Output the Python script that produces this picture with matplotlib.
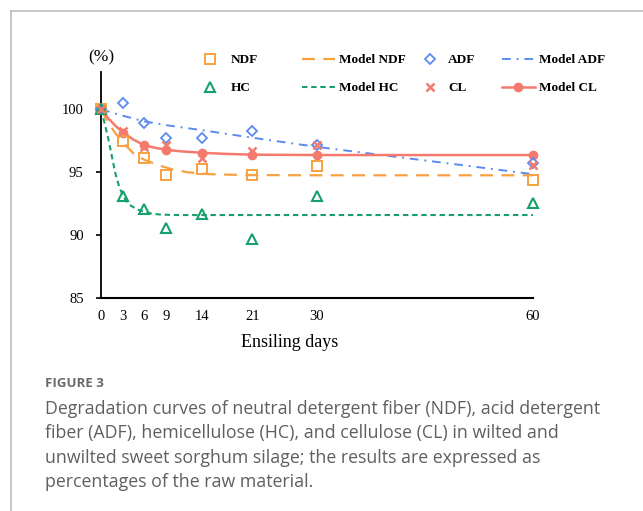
import matplotlib
matplotlib.use('Agg')
import matplotlib.pyplot as plt
from matplotlib.lines import Line2D

# measured days and values (% of raw material)
days = [0, 3, 6, 9, 14, 21, 30, 60]
ndf = [100, 97.49, 96.14, 94.78, 95.25, 94.76, 95.48, 94.42]
adf = [100, 100.5, 98.94, 97.72, 97.7, 98.27, 97.2, 95.7]
hc = [100, 93.1, 92.1, 90.58, 91.72, 89.68, 93.1, 92.52]
cl = [100, 98.28, 97.0, 97.2, 96.1, 96.72, 97.2, 95.6]

# model curves, values
ndf_model_days = [0, 1, 2, 3, 4.5, 6, 8, 10, 12, 15, 20, 30, 60]
ndf_model = [100, 98.95, 98.1, 97.4, 96.5, 96.0, 95.55, 95.22, 95.0, 94.85, 94.78, 94.76, 94.76]
hc_model_days = [0, 0.5, 1, 1.5, 2, 2.5, 3, 3.5, 4, 5, 6, 7, 8, 10, 60]
hc_model = [100, 98.9, 97.7, 96.3, 94.9, 93.9, 93.2, 92.7, 92.4, 92.05, 91.85, 91.72, 91.65, 91.6, 91.6]
adf_model_days = [0, 1.5, 3, 6, 9, 14, 21, 30, 40, 50, 60]
adf_model = [100, 99.75, 99.5, 99.05, 98.75, 98.35, 97.75, 97.02, 96.3, 95.58, 94.85]
cl_model_days = [0, 1, 2, 3, 4.5, 6, 7.5, 9, 11, 14, 17, 21, 30, 60]
cl_model = [100, 99.3, 98.7, 98.2, 97.6, 97.15, 96.95, 96.8, 96.67, 96.55, 96.47, 96.4, 96.37, 96.37]
cl_model_pts = [100, 98.15, 97.14, 96.8, 96.55, 96.4, 96.37, 96.37]

c_ndf = '#F7A040'
c_adf = '#5B8BEF'
c_hc = '#17A06C'
c_cl = '#F47A6E'

serif = 'Liberation Serif'

fig = plt.figure(figsize=(6.43, 5.11), dpi=100)
ax = fig.add_axes([101 / 643, 1 - 298 / 511, 432 / 643, 226.3 / 511])

l_ndf_m, = ax.plot(ndf_model_days, ndf_model, color=c_ndf, lw=1.6, linestyle=(0, (5.8, 3.8)), clip_on=False)
l_hc_m, = ax.plot(hc_model_days, hc_model, color=c_hc, lw=1.5, linestyle=(0, (2.6, 1.8)), clip_on=False)
l_adf_m, = ax.plot(adf_model_days, adf_model, color=c_adf, lw=1.4, linestyle=(0, (4.5, 3, 1, 3)), clip_on=False)
l_cl_m, = ax.plot(cl_model_days, cl_model, color=c_cl, lw=1.8, clip_on=False)
p_cl_m, = ax.plot(days, cl_model_pts, 'o', color=c_cl, ms=6, clip_on=False, zorder=4)

p_ndf, = ax.plot(days, ndf, 's', mfc='none', mec=c_ndf, ms=6.5, mew=1.4, clip_on=False, zorder=5)
p_adf, = ax.plot(days, adf, 'D', mfc='none', mec=c_adf, ms=5, mew=1.3, clip_on=False, zorder=5)
p_hc, = ax.plot(days, hc, '^', mfc='none', mec=c_hc, ms=6.5, mew=1.5, clip_on=False, zorder=5)
p_cl, = ax.plot(days, cl, 'x', color=c_cl, ms=6, mew=1.8, clip_on=False, zorder=6)

ax.set_xlim(0, 60)
ax.set_ylim(85, 103)
ax.set_xticks(days)
ax.set_yticks([85, 90, 95, 100])
ax.spines['top'].set_visible(False)
ax.spines['right'].set_visible(False)
ax.spines['left'].set_linewidth(1.3)
ax.spines['bottom'].set_linewidth(1.5)
ax.tick_params(axis='x', length=0, pad=9, labelsize=10.5)
ax.tick_params(axis='y', length=3.5, width=1.2, direction='out', pad=9, labelsize=10.5)
for lab in ax.get_xticklabels() + ax.get_yticklabels():
    lab.set_family(serif)

ax.set_xlabel('Ensiling days', fontsize=13, family=serif)
ax.xaxis.set_label_coords(0.4375, -0.16)
ax.text(0, 1.065, '(%)', transform=ax.transAxes, ha='center', va='center', fontsize=12.5, family=serif)

prop = {'family': serif, 'weight': 'bold', 'size': 9.5}
common = dict(frameon=False, borderpad=0, borderaxespad=0, labelspacing=1.2, loc='upper left',
              bbox_transform=fig.transFigure, prop=prop, handleheight=0.7)
top = 1 - 54 / 511
leg1 = fig.legend([p_ndf, p_hc], ['NDF', 'HC'], bbox_to_anchor=(203 / 643, top),
                  handlelength=1.05, handletextpad=1.05, **common)
leg2 = fig.legend([l_ndf_m, l_hc_m], ['Model NDF', 'Model HC'], bbox_to_anchor=(302 / 643, top),
                  handlelength=2.5, handletextpad=0.3, **common)
leg3 = fig.legend([p_adf, p_cl], ['ADF', 'CL'], bbox_to_anchor=(423 / 643, top),
                  handlelength=1.05, handletextpad=0.85, **common)
leg4 = fig.legend([l_adf_m, (l_cl_m, p_cl_m)], ['Model ADF', 'Model CL'], bbox_to_anchor=(502 / 643, top),
                  handlelength=2.5, handletextpad=0.3, **common)

# page frame
fig.add_artist(Line2D([11 / 643, 11 / 643], [0, 1 - 11 / 511], color='#bdbdbd', lw=1.2))
fig.add_artist(Line2D([11 / 643, 1], [1 - 11 / 511, 1 - 11 / 511], color='#bdbdbd', lw=1.2))

fig.text(45 / 643, 1 - 383 / 511, 'FIGURE 3', family='Open Sans', weight='bold', fontsize=9.5,
         color='#6a6a6a', va='center')
caption = ('Degradation curves of neutral detergent fiber (NDF), acid detergent\n'
           'fiber (ADF), hemicellulose (HC), and cellulose (CL) in wilted and\n'
           'unwilted sweet sorghum silage; the results are expressed as\n'
           'percentages of the raw material.')
fig.text(45 / 643, 1 - 400 / 511, caption, family='Open Sans', fontsize=12.8, color='#5f5f5f',
         va='top', linespacing=1.46)

fig.savefig('out.png', dpi=100)
